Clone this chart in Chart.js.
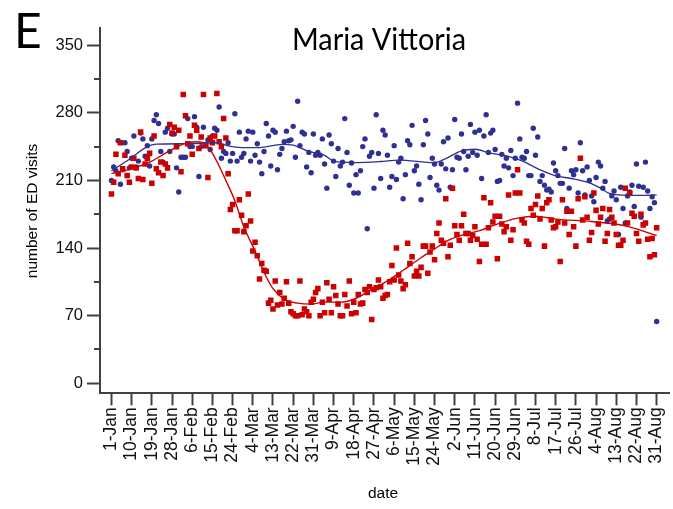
<!DOCTYPE html>
<html>
<head>
<meta charset="utf-8">
<script src="https://cdn.jsdelivr.net/npm/chart.js@4.4.1/dist/chart.umd.min.js"></script>
<style>
html,body{margin:0;padding:0;background:#fff;}
#wrap{width:673px;height:509px;position:relative;}
</style>
</head>
<body>
<div id="wrap"><canvas id="c" width="673" height="509"></canvas></div>
<script>
// ---------- data ----------
const panelLetter = "E";
const chartTitle = "Maria Vittoria";
const yAxisTitle = "number of ED visits";
const xAxisTitle = "date";

const tickLabels = ["1-Jan","10-Jan","19-Jan","28-Jan","6-Feb","15-Feb","24-Feb","4-Mar","13-Mar","22-Mar","31-Mar","9-Apr","18-Apr","27-Apr","6-May","15-May","24-May","2-Jun","11-Jun","20-Jun","29-Jun","8-Jul","17-Jul","26-Jul","4-Aug","13-Aug","22-Aug","31-Aug"];
const yTickValues = [0,35,70,105,140,175,210,245,280,315,350];
const yLabelledTicks = [0,70,140,210,280,350];

// daily ED visits, 1-Jan .. 31-Aug (red squares)
const redVisits = [
196,208,237,217,249,222,236,215,208,224,
233,223,212,260,211,227,233,238,207,256,
222,218,229,215,227,223,268,259,265,245,
262,219,299,277,248,256,237,267,262,243,
255,299,246,213,254,249,256,300,250,245,
274,254,217,180,185,158,158,190,174,157,
163,196,168,137,146,132,108,124,117,116,
83,86,77,106,81,94,82,88,105,83,
74,72,70,70,106,71,77,74,70,84,
87,94,98,70,84,73,104,87,73,100,
91,82,70,70,92,80,106,72,84,73,
92,82,83,97,94,100,66,97,99,107,
100,88,91,92,105,122,107,140,112,106,
98,102,145,124,131,111,116,111,120,142,
142,114,136,142,128,155,166,148,145,191,
131,143,202,163,154,148,163,175,155,155,
148,153,162,149,126,144,192,144,161,187,
167,173,129,173,165,157,162,195,148,159,
197,221,197,169,166,147,144,181,174,185,
194,170,181,142,187,190,169,161,162,167,
126,190,166,178,154,178,162,142,191,233,
169,193,172,148,156,197,179,165,172,181,
147,155,180,172,166,154,143,143,148,202,
166,197,176,173,155,147,175,164,166,149,
131,150,133,161
];

// daily ED visits, 1-Jan .. 31-Aug (blue dots)
const blueVisits = [
210,224,220,251,206,221,249,240,223,233,
256,224,230,259,253,235,246,225,253,272,
278,269,240,229,260,264,240,258,258,223,
198,234,234,234,274,245,245,276,265,214,
245,265,247,252,242,256,264,262,286,233,
240,238,249,230,238,279,230,260,234,238,
253,261,230,260,236,248,229,217,240,269,
256,225,262,260,221,237,243,250,261,251,
252,266,234,292,246,260,258,224,239,218,
258,236,239,236,253,227,202,257,248,230,
214,243,225,229,274,239,205,228,197,216,
197,220,245,253,160,235,239,202,278,238,
212,262,257,236,203,214,246,211,229,233,
191,216,251,247,267,220,225,206,190,247,
272,258,213,233,227,205,200,227,250,222,
254,203,221,273,234,233,258,240,221,235,
268,239,260,236,262,212,256,278,239,259,
262,242,209,210,237,225,233,223,241,215,
233,290,253,234,233,240,215,215,264,236,
255,209,215,205,200,201,198,228,220,215,
207,207,243,181,202,220,216,221,197,249,
220,195,224,210,194,188,213,229,225,202,
209,168,170,194,199,190,154,203,181,166,
194,198,205,183,227,204,172,203,229,199,
181,193,187,64
];

// smoothed trend lines (day index, value)
const redTrendDays   = [0,9,18,25,32,38,42,45,48,51,55,59,64,68,72,77,83,89,95,102,108,116,123,130,138,144,150,157,164,171,181,189,198,214,229,243];
const redTrendValues = [217,222,230,239.5,247.5,250,247.5,238,225,210,189,162,137,115,98,87,83,82,84,84,87,97,106,117,130,139,148,154,158,164,171,173,170,167.5,163,153];
const blueTrendDays   = [0,8,16,20,33,47,52,58,66,76,81,88,95,99,108,120,128,144,149,156,162,168,176,183,191,198,205,213,218,222,226,235,243];
const blueTrendValues = [220,232,245,247.5,248,249,245.7,244,244,247.4,246.6,240,236,230,228.5,229.6,231,228.5,232.6,240.6,242.3,238.8,235.4,230.2,221,214.7,212,207.5,202,196.5,195,194.5,195];

// ---------- styles ----------
const BLUE = '#2e3192';
const RED = '#cc0000';
const AXIS = '#404040';
const SANS = "'Liberation Sans', Arial, sans-serif";

const toPts = (vals) => vals.map((v, i) => ({x: i, y: v}));
const toLine = (days, vals) => days.map((d, i) => ({x: d, y: vals[i]}));

const extras = {
  id: 'extras',
  afterDraw(chart) {
    const ctx = chart.ctx;
    const ys = chart.scales.y;
    const ca = chart.chartArea;
    ctx.save();
    // minor y ticks
    ctx.strokeStyle = AXIS;
    ctx.lineWidth = 2;
    yTickValues.filter(v => !yLabelledTicks.includes(v)).forEach(v => {
      const y = Math.round(ys.getPixelForValue(v));
      ctx.beginPath();
      ctx.moveTo(ca.left - 6, y);
      ctx.lineTo(ca.left, y);
      ctx.stroke();
    });
    ctx.fillStyle = '#000';
    // panel letter
    ctx.font = "48px Lato, 'Liberation Sans', sans-serif";
    ctx.textAlign = 'left';
    ctx.textBaseline = 'alphabetic';
    ctx.fillText(panelLetter, 14, 48);
    // title, fitted to width
    ctx.font = "30px Lato, 'Liberation Sans', sans-serif";
    ctx.textAlign = 'center';
    const w = ctx.measureText(chartTitle).width;
    ctx.save();
    ctx.translate(379, 50);
    ctx.scale(174 / w, 1);
    ctx.fillText(chartTitle, 0, 0);
    ctx.restore();
    // axis titles
    ctx.font = "15.5px " + SANS;
    ctx.textAlign = 'center';
    ctx.textBaseline = 'middle';
    ctx.fillText(xAxisTitle, 383, 494);
    ctx.save();
    ctx.translate(33, 211);
    ctx.rotate(-Math.PI / 2);
    ctx.fillText(yAxisTitle, 0, 0);
    ctx.restore();
    ctx.restore();
  }
};

new Chart(document.getElementById('c'), {
  type: 'scatter',
  data: {
    datasets: [
      {label: 'red trend', data: toLine(redTrendDays, redTrendValues), showLine: true, borderColor: RED, borderWidth: 1.4, pointRadius: 0, cubicInterpolationMode: 'monotone', fill: false},
      {label: 'blue trend', data: toLine(blueTrendDays, blueTrendValues), showLine: true, borderColor: BLUE, borderWidth: 1.3, pointRadius: 0, cubicInterpolationMode: 'monotone', fill: false},
      {label: 'red', data: toPts(redVisits), pointStyle: 'rect', pointRadius: 3.9, backgroundColor: RED, borderWidth: 0, showLine: false},
      {label: 'blue', data: toPts(blueVisits), pointStyle: 'circle', pointRadius: 2.7, backgroundColor: BLUE, borderWidth: 0, showLine: false}
    ]
  },
  options: {
    responsive: false,
    animation: false,
    devicePixelRatio: 1,
    layout: {padding: {top: 27.7, left: 0, right: 1, bottom: 0}},
    plugins: {legend: {display: false}, tooltip: {enabled: false}, title: {display: false}},
    scales: {
      x: {
        type: 'linear',
        min: -5.1,
        max: 248.5,
        afterBuildTicks: (s) => { s.ticks = tickLabels.map((t, i) => ({value: i * 9})); },
        afterFit: (s) => { s.height = 115.7; s.paddingLeft = 0; s.paddingRight = 0; },
        ticks: {
          autoSkip: false, maxRotation: 90, minRotation: 90, padding: 2,
          color: '#111', font: {family: SANS, size: 17.5},
          callback: (v, i) => tickLabels[i]
        },
        grid: {drawOnChartArea: false, drawTicks: true, tickLength: 12, tickColor: AXIS, tickWidth: 2},
        border: {display: true, color: AXIS, width: 2}
      },
      y: {
        type: 'linear',
        min: -10.35,
        max: 368.1,
        afterBuildTicks: (s) => { s.ticks = yTickValues.map(v => ({value: v})); },
        afterFit: (s) => { s.width = 100; },
        ticks: {
          autoSkip: false, padding: 4, color: '#111', font: {family: SANS, size: 16.5},
          callback: (v) => yLabelledTicks.includes(v) ? String(v) : ''
        },
        grid: {drawOnChartArea: false, drawTicks: true, tickLength: 13, tickWidth: 2,
               tickColor: (c) => (c.tick && yLabelledTicks.includes(c.tick.value)) ? AXIS : 'rgba(0,0,0,0)'},
        border: {display: true, color: AXIS, width: 2}
      }
    }
  },
  plugins: [extras]
});
</script>
</body>
</html>
